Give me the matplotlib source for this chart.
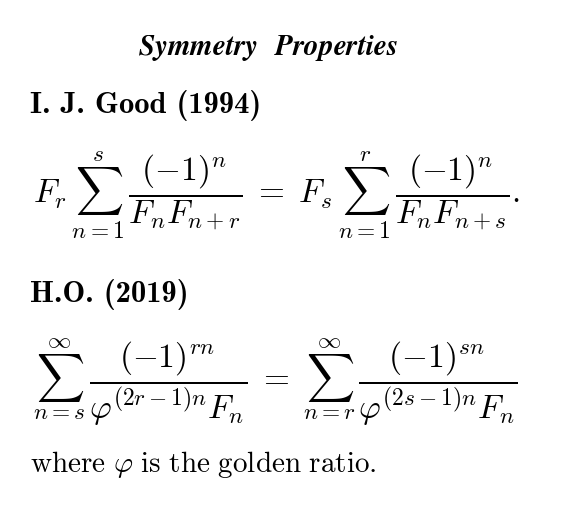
import matplotlib
matplotlib.use("Agg")
import matplotlib.pyplot as plt

plt.rcParams['mathtext.fontset'] = 'cm'
plt.rcParams['axes.unicode_minus'] = False

title = r'$\mathbfit{Symmetry\ \ Properties}$'
heads = ['I. J. Good (1994)', 'H.O. (2019)']
formulas = [
    r'$F_r\,\sum_{n=1}^{s}\,\dfrac{(-1)^n}{F_nF_{n+r}}\;=\;F_s\,\sum_{n=1}^{r}\,\dfrac{(-1)^n}{F_nF_{n+s}}.$',
    r'$\sum_{n=s}^{\infty}\,\dfrac{(-1)^{rn}}{\varphi^{(2r-1)n}F_n}\;=\;\sum_{n=r}^{\infty}\,\dfrac{(-1)^{sn}}{\varphi^{(2s-1)n}F_n}$',
]
footer = r'$\mathrm{where}\ \varphi\ \mathrm{is\ the\ golden\ ratio.}$'

fig = plt.figure(figsize=(5.85, 5.19), dpi=100)
W, H = 585, 519
def put(x, y, s, size, ha='left', **kw):
    fig.text(x / W, 1 - y / H, s, fontsize=size, ha=ha, va='center', **kw)

put(268, 48, title, 21, ha='center')
put(30, 105, heads[0], 22, family='cmb10')
put(33, 195, formulas[0], 24)
put(30, 295, heads[1], 22, family='cmb10')
put(33, 382, formulas[1], 24)
put(30, 465, footer, 21)

fig.savefig('out.png', dpi=100)
